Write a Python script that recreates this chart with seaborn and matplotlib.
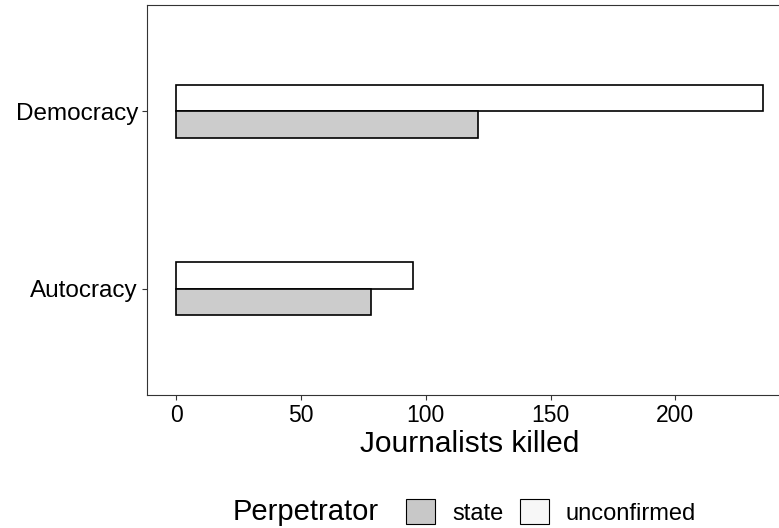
#Importing packages
import pandas as pd
import numpy as np
import matplotlib.pyplot as plt
import seaborn as sns
from matplotlib.patches import Patch

#Chart values
regimes = ['Democracy', 'Autocracy']
state_killed = [121, 78]
unconfirmed_killed = [235, 95]
perpetrators = ['state', 'unconfirmed']

#long table for seaborn
df = pd.DataFrame({
    'regime': regimes * 2,
    'perpetrator': ['state'] * len(regimes) + ['unconfirmed'] * len(regimes),
    'killed': state_killed + unconfirmed_killed,
})

sns.set_style('white')
plt.rcParams['font.family'] = ['Liberation Sans', 'DejaVu Sans']
plt.rcParams['text.color'] = 'black'
plt.rcParams['axes.labelcolor'] = 'black'

colours = {'state': '#CCCCCC', 'unconfirmed': 'white'}

fig = plt.figure(figsize=(7.79, 5.28), dpi=100)
#axes runs a bit past the right edge, like the reference crop
ax = fig.add_axes([147 / 779, 1 - 395 / 528, (792 - 147) / 779, 390 / 528])

sns.barplot(data=df, x='killed', y='regime', hue='perpetrator',
            order=regimes, hue_order=['unconfirmed', 'state'],
            palette=colours, edgecolor='black', linewidth=1.2,
            width=0.3, orient='h', errorbar=None, legend=False, ax=ax)

#ggplot-like limits
ax.set_xlim(-0.05 * 235, 1.05 * 235)
ax.set_ylim(1.6, -0.6)
ax.set_xticks([0, 50, 100, 150, 200])

#frame and ticks
for s in ax.spines.values():
    s.set_color('#333333')
    s.set_linewidth(0.8)
ax.tick_params(axis='both', which='major', length=3.5, width=0.8, color='#333333',
               labelcolor='black', bottom=True, left=True, pad=3)
ax.tick_params(axis='x', labelsize=16.5)
ax.tick_params(axis='y', labelsize=17.5)
ax.set_xlabel('Journalists killed', fontsize=21.5, labelpad=2, color='black')
ax.set_ylabel('')

#legend at the bottom
handles = [Patch(facecolor='#C8C8C8', edgecolor='black', linewidth=0.8),
           Patch(facecolor='#F7F7F7', edgecolor='black', linewidth=0.8)]
fig.text(233 / 779, 1 - 512 / 528, 'Perpetrator', fontsize=21, va='center', ha='left',
         color='black')
leg = fig.legend(handles, perpetrators, loc='center', bbox_to_anchor=(551 / 779, 1 - 512 / 528),
                 ncol=2, frameon=False, fontsize=17, handlelength=1.25, handleheight=1.25,
                 handletextpad=0.7, columnspacing=0.7, borderpad=0, borderaxespad=0)
for t in leg.get_texts():
    t.set_color('black')

#saving plot
plt.savefig('out.png', dpi=100)
